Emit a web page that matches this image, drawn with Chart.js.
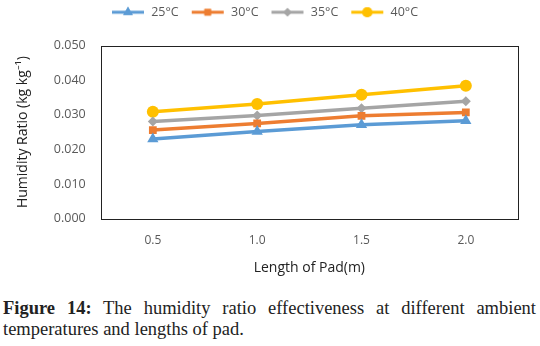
<!DOCTYPE html>
<html>
<head>
<meta charset="utf-8">
<script src="https://cdn.jsdelivr.net/npm/chart.js@4/dist/chart.umd.min.js"></script>
<style>
  body { margin: 0; background: #fff; width: 540px; height: 346px; overflow: hidden; }
  #wrap { position: relative; width: 540px; height: 282px; }
  #caption {
    font-family: "Liberation Serif", "DejaVu Serif", serif;
    font-size: 18.5px; line-height: 21px; color: #222;
    text-align: justify; margin: 16px 4px 0 3px;
  }
  #caption b { font-weight: bold; }
</style>
</head>
<body>
<div id="wrap"><canvas id="myChart"></canvas></div>
<div id="caption"><b>Figure 14:</b> The humidity ratio effectiveness at different ambient temperatures and lengths of pad.</div>
<script>
const lengths = ["0.5", "1.0", "1.5", "2.0"];
const seriesNames = ["25°C", "30°C", "35°C", "40°C"];
const t25 = [0.0230, 0.0252, 0.0271, 0.0283];
const t30 = [0.0256, 0.0275, 0.0297, 0.0307];
const t35 = [0.0281, 0.0298, 0.0319, 0.0339];
const t40 = [0.0309, 0.0331, 0.0358, 0.0384];
const colors = ["#5B9BD5", "#ED7D31", "#A5A5A5", "#FFC000"];
const markers = ["triangle", "rect", "rectRot", "circle"];
const markerSizes = [6.5, 5.5, 5, 6];

// legend swatch: a short line with the marker on it, like Excel
function swatch(color, style, r) {
  const c = document.createElement('canvas');
  c.width = 34; c.height = 14;
  const ctx = c.getContext('2d');
  ctx.strokeStyle = color; ctx.lineWidth = 3;
  ctx.beginPath(); ctx.moveTo(1, 7); ctx.lineTo(33, 7); ctx.stroke();
  ctx.fillStyle = color;
  Chart.helpers.drawPoint(ctx, { pointStyle: style, radius: r * 0.85, borderWidth: 0 }, 17, 7);
  ctx.fill();
  return c;
}

const plotBox = {
  id: 'plotBox',
  afterDraw(chart) {
    const a = chart.chartArea, ctx = chart.ctx;
    ctx.save();
    ctx.strokeStyle = '#222';
    ctx.lineWidth = 1;
    ctx.strokeRect(Math.round(a.left) + 0.5, Math.round(a.top) + 0.5,
      Math.round(a.right - a.left), Math.round(a.bottom - a.top));
    ctx.restore();
  }
};

// extra room under the legend
const legendGap = {
  id: 'legendGap',
  beforeInit(chart) {
    const fit = chart.legend.fit;
    chart.legend.fit = function () {
      fit.bind(chart.legend)();
      this.height += 17;
    };
  }
};

const values = [t25, t30, t35, t40];

new Chart("myChart", {
  type: "line",
  data: {
    labels: lengths,
    datasets: values.map((v, i) => ({
      label: seriesNames[i],
      data: v,
      borderColor: colors[i],
      backgroundColor: colors[i],
      borderWidth: 3.5,
      pointStyle: markers[i],
      pointRadius: markerSizes[i],
      pointBorderWidth: 0,
      tension: 0
    }))
  },
  options: {
    responsive: true,
    maintainAspectRatio: false,
    animation: false,
    layout: { padding: { left: 11, right: 22, top: -6, bottom: 2 } },
    plugins: {
      legend: {
        position: 'top',
        labels: {
          usePointStyle: true,
          pointStyleWidth: 34,
          boxHeight: 13,
          padding: 12,
          color: '#595959',
          font: { family: "'Open Sans', sans-serif", size: 12.5 },
          generateLabels(chart) {
            return chart.data.datasets.map((ds, i) => ({
              text: ds.label,
              fillStyle: ds.borderColor,
              strokeStyle: ds.borderColor,
              fontColor: '#595959',
              pointStyle: swatch(colors[i], markers[i], markerSizes[i]),
              lineWidth: 0,
              datasetIndex: i
            }));
          }
        }
      },
      tooltip: { enabled: false }
    },
    scales: {
      x: {
        offset: true,
        grid: { display: false, drawTicks: false },
        border: { display: false },
        ticks: { color: '#595959', padding: 15, font: { family: "'Open Sans', sans-serif", size: 12 } },
        title: { display: true, text: 'Length of Pad(m)', color: '#222', padding: { top: -4, bottom: 4 },
          font: { family: "'Open Sans', sans-serif", size: 14 } }
      },
      y: {
        min: 0, max: 0.05,
        grid: { display: false, drawTicks: false },
        border: { display: false },
        ticks: { stepSize: 0.01, color: '#595959', padding: 15,
          font: { family: "'Open Sans', sans-serif", size: 12.5 },
          callback: v => v.toFixed(3) },
        title: { display: true, text: 'Humidity Ratio (kg kg⁻¹)', color: '#222', padding: { top: 4, bottom: 7 },
          font: { family: "'Open Sans', sans-serif", size: 14 } }
      }
    }
  },
  plugins: [plotBox, legendGap]
});
</script>
</body>
</html>
